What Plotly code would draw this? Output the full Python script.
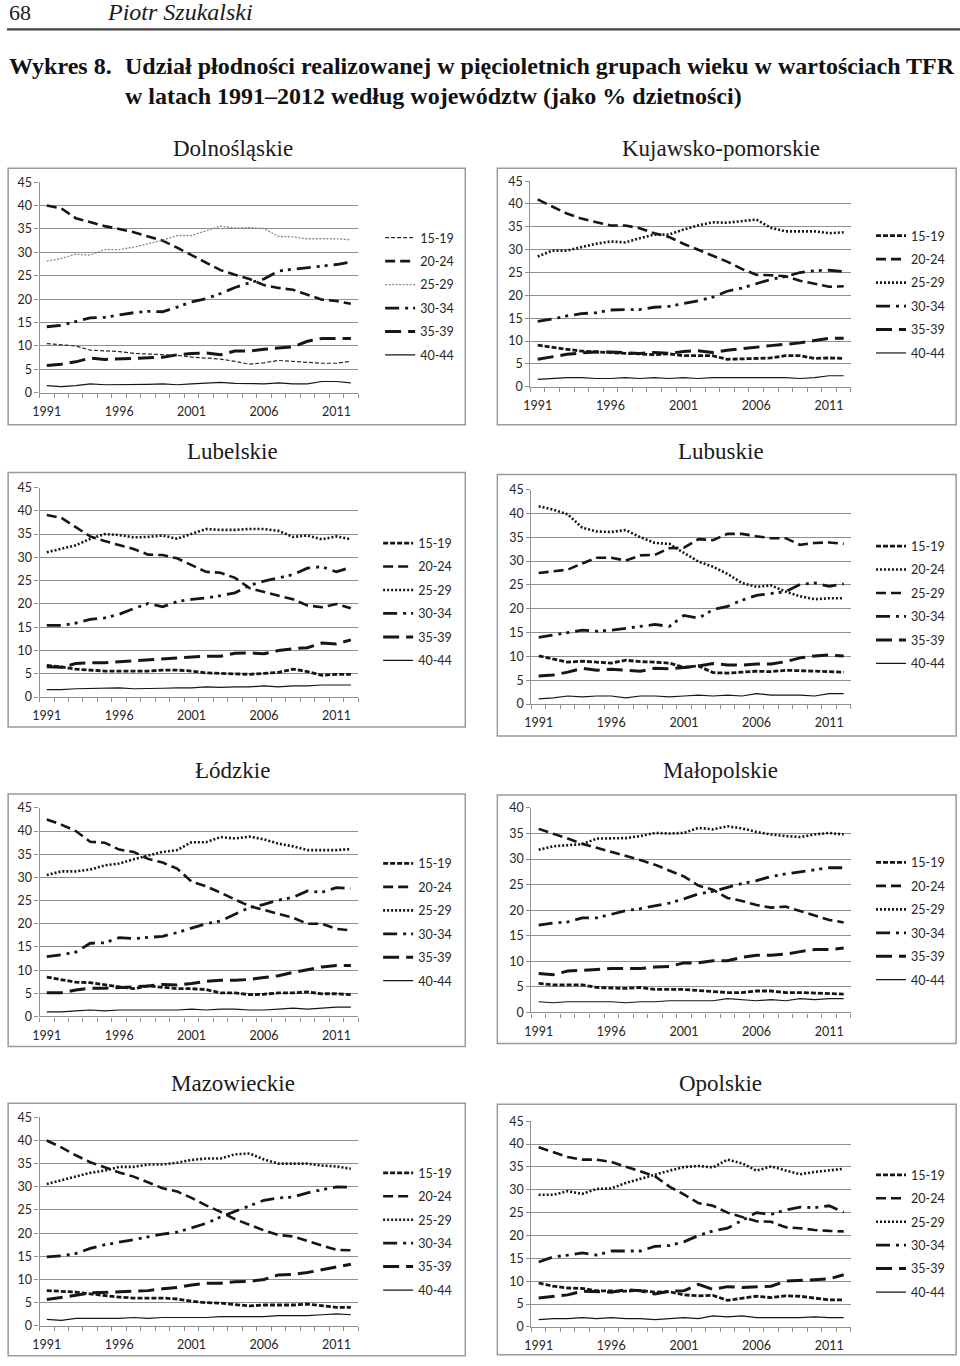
import plotly.graph_objects as go

W, H = 960, 1366

years = list(range(1991, 2013))
age_groups = ["15-19", "20-24", "25-29", "30-34", "35-39", "40-44"]
tick_years = [1991, 1996, 2001, 2006, 2011]

# ---------------- Dolnośląskie ----------------
dol_15_19 = [10.5, 10.3, 10.0, 9.1, 9.0, 8.8, 8.4, 8.3, 8.1, 8.0, 7.6, 7.4, 7.2, 6.7, 6.1, 6.4, 6.9, 6.7, 6.5, 6.3, 6.3, 6.7]
dol_20_24 = [40.0, 39.4, 37.3, 36.4, 35.6, 35.0, 34.3, 33.4, 32.5, 31.0, 29.4, 27.8, 26.2, 25.2, 24.3, 23.0, 22.4, 22.0, 21.0, 19.9, 19.6, 19.0]
dol_25_29 = [28.1, 28.7, 29.6, 29.4, 30.6, 30.6, 31.1, 31.8, 32.6, 33.6, 33.6, 34.6, 35.6, 35.2, 35.3, 35.1, 33.4, 33.3, 32.9, 32.9, 32.9, 32.7]
dol_30_34 = [14.1, 14.4, 15.2, 16.0, 16.1, 16.6, 17.1, 17.4, 17.3, 18.3, 19.4, 20.1, 21.2, 22.5, 23.5, 24.3, 26.0, 26.4, 26.7, 27.1, 27.4, 27.9]
dol_35_39 = [5.8, 6.1, 6.6, 7.4, 7.1, 7.2, 7.4, 7.4, 7.6, 8.1, 8.4, 8.5, 8.1, 8.9, 8.9, 9.3, 9.5, 9.8, 11.0, 11.6, 11.6, 11.6]
dol_40_44 = [1.5, 1.3, 1.5, 1.9, 1.7, 1.7, 1.7, 1.8, 1.9, 1.7, 1.9, 2.1, 2.2, 2.0, 1.9, 1.9, 2.1, 1.9, 1.9, 2.4, 2.4, 2.1]

# ---------------- Kujawsko-pomorskie ----------------
kuj_15_19 = [9.1, 8.6, 8.2, 7.8, 7.6, 7.4, 7.3, 7.2, 7.0, 7.2, 6.8, 6.8, 6.8, 6.0, 6.1, 6.2, 6.3, 6.8, 6.8, 6.2, 6.3, 6.2]
kuj_20_24 = [41.0, 39.5, 37.9, 36.8, 36.0, 35.3, 35.3, 34.7, 33.6, 32.8, 31.3, 30.0, 28.8, 27.4, 25.8, 24.5, 24.4, 24.2, 23.2, 22.6, 21.9, 22.0]
kuj_25_29 = [28.5, 29.8, 29.8, 30.6, 31.3, 31.8, 31.6, 32.5, 33.3, 33.3, 34.4, 35.3, 36.0, 35.9, 36.3, 36.6, 34.8, 34.0, 34.0, 34.0, 33.6, 33.8]
kuj_30_34 = [14.3, 14.8, 15.5, 16.0, 16.2, 16.8, 16.9, 16.9, 17.4, 17.6, 18.2, 18.8, 19.6, 20.9, 21.6, 22.5, 23.5, 24.1, 25.0, 25.4, 25.5, 25.2]
kuj_35_39 = [6.0, 6.6, 7.1, 7.4, 7.6, 7.6, 7.4, 7.3, 7.5, 7.3, 7.7, 7.9, 7.5, 8.0, 8.3, 8.7, 9.0, 9.3, 9.6, 10.1, 10.6, 10.6]
kuj_40_44 = [1.6, 1.8, 2.0, 2.0, 1.8, 1.8, 2.0, 1.8, 2.0, 1.8, 2.0, 1.8, 2.0, 2.0, 2.0, 2.0, 2.0, 2.0, 1.8, 2.0, 2.4, 2.4]

# ---------------- Lubelskie ----------------
lbl_15_19 = [6.8, 6.5, 6.0, 5.8, 5.6, 5.6, 5.6, 5.6, 5.8, 5.8, 5.6, 5.2, 5.1, 5.0, 4.9, 5.1, 5.3, 6.0, 5.5, 4.7, 4.9, 4.9]
lbl_20_24 = [39.1, 38.5, 36.5, 34.5, 33.5, 32.7, 31.8, 30.6, 30.5, 29.8, 28.4, 26.9, 26.7, 25.6, 23.4, 22.6, 21.7, 21.0, 19.7, 19.3, 20.0, 19.1]
lbl_25_29 = [31.1, 31.8, 32.6, 34.0, 35.0, 34.8, 34.3, 34.4, 34.7, 34.0, 35.0, 36.1, 35.9, 35.9, 36.1, 36.1, 35.7, 34.4, 34.7, 33.9, 34.5, 33.9]
lbl_30_34 = [15.4, 15.4, 15.9, 16.7, 17.0, 17.8, 19.0, 20.1, 19.4, 20.5, 21.0, 21.3, 21.8, 22.4, 24.0, 24.9, 25.6, 26.3, 27.7, 28.0, 26.9, 27.9]
lbl_35_39 = [6.5, 6.4, 7.2, 7.4, 7.4, 7.6, 7.8, 8.0, 8.2, 8.3, 8.6, 8.8, 8.8, 9.4, 9.5, 9.3, 10.0, 10.4, 10.6, 11.6, 11.4, 12.3]
lbl_40_44 = [1.6, 1.6, 1.8, 1.9, 1.9, 2.0, 1.8, 1.8, 1.9, 2.0, 2.0, 2.2, 2.1, 2.2, 2.2, 2.4, 2.2, 2.4, 2.4, 2.6, 2.6, 2.6]

# ---------------- Lubuskie ----------------
lbs_15_19 = [10.1, 9.4, 8.8, 9.0, 8.8, 8.6, 9.2, 8.9, 8.8, 8.6, 7.7, 8.0, 6.6, 6.5, 6.7, 6.9, 6.8, 7.1, 7.0, 6.9, 6.7, 6.7]
lbs_20_24 = [41.5, 40.8, 39.8, 37.0, 36.2, 36.1, 36.5, 35.0, 33.8, 33.6, 31.7, 29.9, 28.8, 27.3, 25.4, 24.6, 24.9, 23.6, 22.6, 22.0, 22.2, 22.2]
lbs_25_29 = [27.5, 27.9, 28.2, 29.5, 30.7, 30.7, 30.1, 31.2, 31.3, 32.7, 32.8, 34.6, 34.4, 35.7, 35.7, 35.2, 34.8, 34.8, 33.4, 33.8, 33.9, 33.6]
lbs_30_34 = [14.0, 14.5, 15.0, 15.5, 15.3, 15.5, 15.9, 16.3, 16.7, 16.3, 18.6, 18.0, 19.8, 20.5, 21.8, 22.8, 23.2, 23.6, 25.1, 25.4, 24.7, 25.2]
lbs_35_39 = [5.9, 6.1, 6.7, 7.5, 7.1, 7.3, 7.1, 6.9, 7.5, 7.4, 7.7, 8.0, 8.5, 8.2, 8.2, 8.4, 8.4, 8.9, 9.7, 10.1, 10.3, 10.1]
lbs_40_44 = [1.1, 1.3, 1.7, 1.5, 1.7, 1.7, 1.3, 1.7, 1.7, 1.5, 1.7, 1.9, 1.7, 1.9, 1.7, 2.2, 1.9, 1.9, 1.9, 1.7, 2.2, 2.2]

# ---------------- Łódzkie ----------------
lod_15_19 = [8.5, 8.0, 7.4, 7.3, 6.8, 6.4, 6.0, 6.6, 6.3, 6.0, 6.0, 5.8, 5.1, 5.1, 4.7, 4.8, 5.1, 5.1, 5.3, 4.9, 4.9, 4.7]
lod_20_24 = [42.5, 41.4, 40.0, 37.7, 37.5, 36.0, 35.5, 34.0, 33.2, 31.9, 29.1, 28.1, 26.7, 25.3, 23.8, 23.0, 22.1, 21.3, 20.0, 20.0, 18.9, 18.6]
lod_25_29 = [30.5, 31.3, 31.3, 31.7, 32.6, 33.0, 33.9, 34.7, 35.5, 35.9, 37.6, 37.6, 38.7, 38.4, 38.8, 38.2, 37.3, 36.7, 35.9, 35.9, 35.9, 36.1]
lod_30_34 = [12.9, 13.3, 13.9, 15.8, 15.9, 17.0, 16.8, 17.1, 17.3, 18.1, 19.1, 20.0, 20.6, 22.0, 23.5, 24.2, 25.1, 25.7, 27.1, 26.8, 27.8, 27.6]
lod_35_39 = [5.1, 5.1, 5.7, 6.1, 6.1, 6.2, 6.4, 6.6, 6.9, 6.8, 7.1, 7.6, 7.8, 7.8, 8.0, 8.4, 8.8, 9.5, 10.1, 10.7, 11.0, 11.0]
lod_40_44 = [1.0, 1.0, 1.2, 1.4, 1.2, 1.4, 1.4, 1.4, 1.4, 1.4, 1.6, 1.4, 1.6, 1.6, 1.4, 1.4, 1.6, 1.8, 1.6, 1.8, 2.0, 2.0]

# ---------------- Małopolskie ----------------
mal_15_19 = [5.7, 5.4, 5.4, 5.4, 4.9, 4.8, 4.7, 4.9, 4.5, 4.5, 4.5, 4.3, 4.1, 3.9, 3.9, 4.2, 4.2, 3.9, 3.9, 3.8, 3.6, 3.6]
mal_20_24 = [35.9, 35.0, 34.0, 33.0, 32.2, 31.4, 30.7, 29.8, 28.9, 27.8, 26.6, 24.8, 24.0, 22.4, 21.8, 21.0, 20.5, 20.7, 19.8, 19.0, 18.1, 17.6]
mal_25_29 = [31.8, 32.5, 32.7, 32.9, 34.0, 34.0, 34.1, 34.5, 35.1, 35.0, 35.1, 36.1, 35.8, 36.4, 36.0, 35.3, 34.8, 34.5, 34.3, 34.8, 35.1, 34.8]
mal_30_34 = [17.1, 17.5, 17.7, 18.5, 18.5, 19.2, 19.9, 20.3, 20.8, 21.4, 22.2, 23.2, 23.7, 24.5, 25.2, 25.8, 26.6, 27.1, 27.5, 27.9, 28.3, 28.3]
mal_35_39 = [7.6, 7.4, 8.1, 8.2, 8.4, 8.6, 8.6, 8.6, 8.9, 9.0, 9.7, 9.7, 10.1, 10.1, 10.8, 11.2, 11.2, 11.4, 11.9, 12.3, 12.3, 12.6]
mal_40_44 = [2.1, 1.9, 2.1, 2.1, 2.1, 2.1, 1.9, 2.1, 2.1, 2.3, 2.3, 2.3, 2.3, 2.7, 2.5, 2.3, 2.5, 2.3, 2.7, 2.5, 2.7, 2.7]

# ---------------- Mazowieckie ----------------
maz_15_19 = [7.6, 7.4, 7.3, 6.9, 6.5, 6.2, 6.0, 6.0, 6.0, 5.8, 5.3, 5.0, 4.9, 4.6, 4.3, 4.5, 4.5, 4.5, 4.7, 4.3, 4.0, 4.0]
maz_20_24 = [40.0, 38.5, 36.8, 35.3, 34.2, 33.1, 32.2, 31.0, 29.7, 29.0, 27.6, 26.0, 24.6, 23.0, 21.8, 20.6, 19.6, 19.3, 18.3, 17.3, 16.4, 16.3]
maz_25_29 = [30.6, 31.4, 32.1, 33.0, 33.5, 34.3, 34.3, 34.8, 34.8, 35.2, 35.8, 36.1, 36.1, 37.0, 37.2, 35.9, 35.0, 35.0, 35.0, 34.6, 34.4, 33.9]
maz_30_34 = [14.9, 15.1, 15.6, 16.7, 17.5, 18.0, 18.6, 19.2, 19.8, 20.2, 21.2, 22.1, 23.5, 24.7, 25.8, 27.1, 27.6, 27.8, 28.7, 29.3, 30.0, 29.9]
maz_35_39 = [5.7, 6.1, 6.6, 7.1, 7.2, 7.3, 7.5, 7.6, 8.0, 8.3, 8.8, 9.2, 9.2, 9.5, 9.6, 10.0, 11.0, 11.1, 11.5, 12.1, 12.6, 13.3]
maz_40_44 = [1.4, 1.2, 1.6, 1.6, 1.6, 1.6, 1.8, 1.6, 1.8, 1.8, 1.8, 1.8, 2.0, 2.0, 2.0, 2.0, 2.2, 2.2, 2.2, 2.4, 2.6, 2.4]

# ---------------- Opolskie ----------------
opo_15_19 = [9.6, 8.9, 8.5, 8.4, 7.9, 7.8, 7.8, 8.0, 7.6, 7.7, 7.0, 6.8, 6.9, 5.8, 6.3, 6.7, 6.4, 6.8, 6.7, 6.3, 5.9, 5.9]
opo_20_24 = [39.3, 38.3, 37.2, 36.6, 36.6, 36.1, 35.1, 34.1, 33.0, 30.7, 29.0, 27.1, 26.5, 25.0, 24.1, 23.1, 23.0, 21.8, 21.6, 21.2, 21.0, 20.9]
opo_25_29 = [28.9, 28.9, 29.7, 29.1, 30.2, 30.3, 31.5, 32.4, 33.4, 34.2, 35.0, 35.2, 34.9, 36.6, 35.8, 34.2, 35.1, 34.2, 33.4, 33.9, 34.2, 34.6]
opo_30_34 = [14.2, 15.3, 15.7, 16.2, 15.7, 16.6, 16.6, 16.6, 17.6, 17.8, 18.6, 20.0, 21.0, 21.6, 23.3, 25.0, 24.6, 25.6, 26.2, 26.1, 26.5, 25.1]
opo_35_39 = [6.3, 6.6, 7.0, 7.8, 7.7, 7.6, 8.1, 7.9, 7.2, 7.8, 7.9, 9.3, 8.2, 8.8, 8.6, 8.7, 8.9, 10.0, 10.1, 10.3, 10.5, 11.4]
opo_40_44 = [1.6, 1.8, 1.8, 2.0, 1.8, 2.0, 1.8, 1.8, 1.6, 1.8, 2.0, 1.8, 2.4, 2.2, 2.4, 2.0, 2.0, 2.0, 2.0, 2.2, 2.0, 2.0]

# ---------------- styles ----------------
INK = "#161616"
S_SHORT_THIN = dict(color="#2a2a2a", width=1.2, dash="4px,2px")
S_SHORT = dict(color=INK, width=2.8, dash="5px,2px")
S_DASH = dict(color=INK, width=2.6, dash="10px,5px")
S_DOT_THIN = dict(color="#8a8a8a", width=1.3, dash="2px,1.5px")
S_DOT = dict(color=INK, width=2.6, dash="2px,2px")
S_LDD = dict(color=INK, width=2.8, dash="14px,6px,3px,5px,3px,6px")
S_LONG = dict(color=INK, width=3.0, dash="16px,7px")
S_SOLID = dict(color=INK, width=1.2)

STD = [S_SHORT, S_DASH, S_DOT, S_LDD, S_LONG, S_SOLID]

panels = [
    dict(title="Dolnośląskie", series=[dol_15_19, dol_20_24, dol_25_29, dol_30_34, dol_35_39, dol_40_44],
         styles=[S_SHORT_THIN, S_DASH, S_DOT_THIN, S_LDD, S_LONG, S_SOLID],
         plot=(40, 182, 358, 393), ymax=45, leg=(380, 223), box=(3, 168, 465, 425), tpos=(233, 148)),
    dict(title="Kujawsko-pomorskie", series=[kuj_15_19, kuj_20_24, kuj_25_29, kuj_30_34, kuj_35_39, kuj_40_44],
         styles=STD, plot=(530, 181, 850, 387), ymax=45, leg=(870, 221), box=(497, 168, 955, 425), tpos=(720, 148)),
    dict(title="Lubelskie", series=[lbl_15_19, lbl_20_24, lbl_25_29, lbl_30_34, lbl_35_39, lbl_40_44],
         styles=STD, plot=(40, 488, 358, 698), ymax=45, leg=(378, 529), box=(7, 473, 465, 728), tpos=(233, 452)),
    dict(title="Lubuskie", series=[lbs_15_19, lbs_20_24, lbs_25_29, lbs_30_34, lbs_35_39, lbs_40_44],
         styles=[S_SHORT, S_DOT, S_DASH, S_LDD, S_LONG, S_SOLID],
         plot=(531, 490, 850, 705), ymax=45, leg=(870, 532), box=(497, 475, 955, 737), tpos=(720, 452)),
    dict(title="Łódzkie", series=[lod_15_19, lod_20_24, lod_25_29, lod_30_34, lod_35_39, lod_40_44],
         styles=STD, plot=(40, 809, 358, 1018), ymax=45, leg=(378, 850), box=(7, 795, 465, 1048), tpos=(233, 772)),
    dict(title="Małopolskie", series=[mal_15_19, mal_20_24, mal_25_29, mal_30_34, mal_35_39, mal_40_44],
         styles=STD, plot=(531, 809, 850, 1014), ymax=40, leg=(870, 849), box=(497, 796, 955, 1045), tpos=(720, 772)),
    dict(title="Mazowieckie", series=[maz_15_19, maz_20_24, maz_25_29, maz_30_34, maz_35_39, maz_40_44],
         styles=STD, plot=(40, 1119, 358, 1328), ymax=45, leg=(378, 1160), box=(7, 1105, 465, 1358), tpos=(233, 1085)),
    dict(title="Opolskie", series=[opo_15_19, opo_20_24, opo_25_29, opo_30_34, opo_35_39, opo_40_44],
         styles=STD, plot=(531, 1123, 850, 1329), ymax=45, leg=(870, 1162), box=(497, 1106, 955, 1357), tpos=(720, 1085)),
]

# Positions above; the photographed page shows up
# with a small inset, so they are mapped back to page coordinates here.
INSET, SCALE = 7.5, 0.991


def px(x):
    return max(0.0, (x - INSET) / SCALE) / W


def py(y):
    return 1 - max(0.0, (y - INSET) / SCALE) / H


fig = go.Figure()
layout = dict(
    width=W, height=H, margin=dict(l=0, r=0, t=0, b=0),
    paper_bgcolor="white", plot_bgcolor="white", showlegend=True,
    shapes=[], annotations=[],
)

GRID = "#8f8f8f"
TICKFONT = dict(family="Lato, Open Sans, sans-serif", size=12.5, color="#262626")

for i, p in enumerate(panels, start=1):
    sfx = "" if i == 1 else str(i)
    xa, ya = "x" + sfx, "y" + sfx
    leg = "legend" + sfx
    x0, y0, x1, y1 = p["plot"]
    for name, vals, st in zip(age_groups, p["series"], p["styles"]):
        fig.add_trace(go.Scatter(
            x=years, y=vals, mode="lines", name=name, line=st,
            xaxis=xa, yaxis=ya, legend=leg, legendgroup=f"{i}-{name}",
            hoverinfo="skip",
        ))
    layout["xaxis" + sfx] = dict(
        domain=[px(x0), px(x1)], anchor=ya, range=[1990.5, 2012.5],
        tickmode="array", tickvals=tick_years, ticktext=[str(t) for t in tick_years],
        ticks="outside", ticklen=7, tickcolor="rgba(0,0,0,0)",
        minor=dict(ticks="outside", ticklen=4, tickcolor=GRID, tick0=1990.5, dtick=1, showgrid=False),
        showgrid=False, zeroline=False, showline=True, linecolor=GRID, linewidth=1.2,
        tickfont=TICKFONT, fixedrange=True,
    )
    layout["yaxis" + sfx] = dict(
        domain=[py(y1), py(y0)], anchor=xa, range=[0, p["ymax"]], dtick=5, tick0=0,
        showgrid=True, gridcolor=GRID, gridwidth=1.3, zeroline=False,
        showline=True, linecolor=GRID, linewidth=1.2,
        ticks="outside", ticklen=4, tickcolor=GRID,
        tickfont=TICKFONT, fixedrange=True,
    )
    lx, ly = p["leg"]
    layout[leg] = dict(
        x=px(lx), y=py(ly), xanchor="left", yanchor="top",
        xref="paper", yref="paper",
        bgcolor="rgba(0,0,0,0)", borderwidth=0,
        font=dict(family="Lato, Open Sans, sans-serif", size=12.5, color="#262626"),
        traceorder="grouped", tracegroupgap=4.2, itemwidth=30,
        itemclick=False, itemdoubleclick=False,
    )
    bx0, by0, bx1, by1 = p["box"]
    layout["shapes"].append(dict(
        type="rect", xref="paper", yref="paper",
        x0=max(px(bx0), 0.0012), x1=px(bx1), y0=py(by1), y1=py(by0),
        line=dict(color="#9a9a9a", width=1.5), fillcolor="rgba(0,0,0,0)", layer="below",
    ))
    tx, ty = p["tpos"]
    layout["annotations"].append(dict(
        text=p["title"], x=px(tx), y=py(ty), xref="paper", yref="paper",
        xanchor="center", yanchor="middle", showarrow=False,
        font=dict(family="Liberation Serif, Times New Roman, serif", size=23, color="#1a1a1a"),
    ))

# header
SERIF = "Liberation Serif, Times New Roman, serif"
layout["annotations"] += [
    dict(text="68", x=px(4), y=py(12), xref="paper", yref="paper", xanchor="left", yanchor="middle",
         showarrow=False, font=dict(family=SERIF, size=22, color="#1a1a1a")),
    dict(text="<i>Piotr Szukalski</i>", x=px(105), y=py(12), xref="paper", yref="paper", xanchor="left",
         yanchor="middle", showarrow=False, font=dict(family=SERIF, size=24, color="#1a1a1a")),
    dict(text="<b>Wykres 8.</b>", x=px(6), y=py(66), xref="paper", yref="paper", xanchor="left",
         yanchor="middle", showarrow=False, font=dict(family=SERIF, size=24, color="#111")),
    dict(text="<b>Udział płodności realizowanej w pięcioletnich grupach wieku w wartościach TFR</b>",
         x=px(123), y=py(66), xref="paper", yref="paper", xanchor="left", yanchor="middle",
         showarrow=False, font=dict(family=SERIF, size=24, color="#111")),
    dict(text="<b>w latach 1991–2012 według województw (jako % dzietności)</b>",
         x=px(123), y=py(96), xref="paper", yref="paper", xanchor="left", yanchor="middle",
         showarrow=False, font=dict(family=SERIF, size=24, color="#111")),
]
layout["shapes"].append(dict(
    type="line", xref="paper", yref="paper", x0=0, x1=1, y0=py(29), y1=py(29),
    line=dict(color="#444", width=2.2),
))

fig.update_layout(**layout)
fig.write_html(
    "out.html",
    config={"displayModeBar": False},
    post_script=(
        "document.documentElement.style.margin='0';"
        "document.documentElement.style.overflow='hidden';"
        "document.body.style.margin='0';"
        "document.body.style.overflow='hidden';"
    ),
)
